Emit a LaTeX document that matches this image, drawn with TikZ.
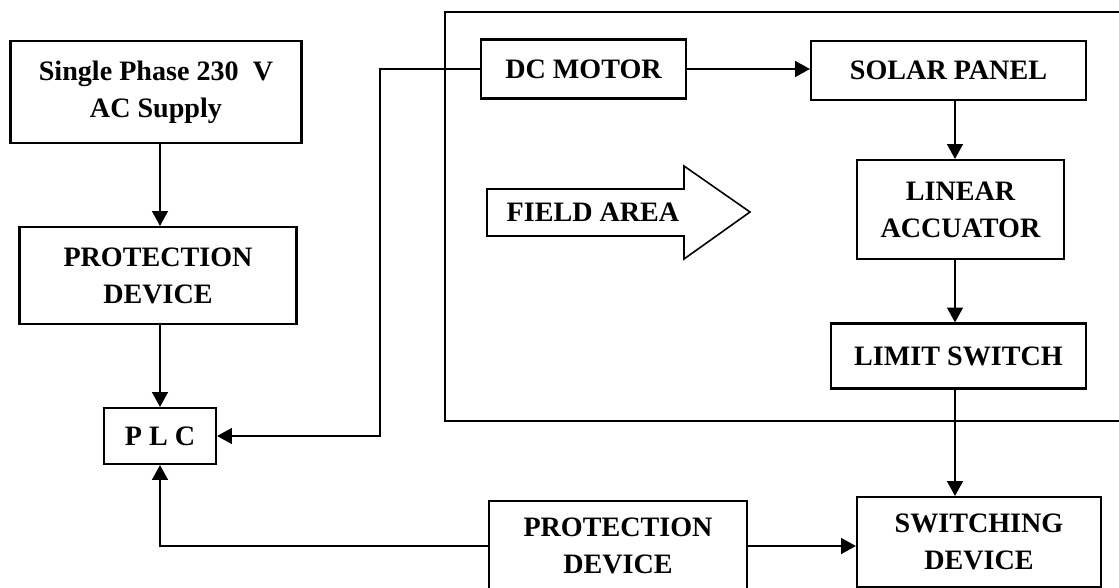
\documentclass[tikz,border=0pt]{standalone}
\usepackage{fontspec}
\setmainfont{Liberation Serif}
\usetikzlibrary{arrows.meta}

\begin{document}
\begin{tikzpicture}[x=0.02cm,y=-0.02cm,
  blk/.style={draw,line width=1.2pt,align=center,inner sep=0pt,font=\fontsize{16}{21}\selectfont\bfseries},
  arr/.style={line width=1.2pt,-{Triangle[length=8.5pt,width=9pt]}}]
\clip (0,0) rectangle (1119,588);
\draw[line width=1.2pt] (445,12) rectangle (1135,421);
\node[blk,minimum width=5.82cm,minimum height=2.04cm] (supply) at (156,92) {Single Phase 230\ \ V\\AC Supply};
\node[blk,minimum width=5.54cm,minimum height=1.94cm] (prot1) at (158,275.5) {PROTECTION\\DEVICE};
\node[blk,minimum width=2.24cm,minimum height=1.12cm] (plc) at (160,436) {P L C};
\node[blk,minimum width=4.10cm,minimum height=1.18cm] (dcm) at (583.5,69) {DC MOTOR};
\node[blk,minimum width=5.50cm,minimum height=1.18cm] (solar) at (948.5,70.5) {SOLAR PANEL};
\node[blk,minimum width=4.14cm,minimum height=1.98cm] (linear) at (960.5,209.5) {LINEAR\\ACCUATOR};
\node[blk,minimum width=5.10cm,minimum height=1.30cm] (limit) at (958.5,356) {LIMIT SWITCH};
\node[blk,minimum width=4.88cm,minimum height=1.80cm] (switching) at (979,542) {SWITCHING\\DEVICE};
\node[blk,minimum width=5.16cm,minimum height=1.80cm] (prot2) at (618,546) {PROTECTION\\DEVICE};
\draw[line width=0.9pt] (487,189) -- (684,189) -- (684,166) -- (750,212) -- (684,259) -- (684,236) -- (487,236) -- cycle;
\node[font=\fontsize{16}{21}\selectfont\bfseries] (field) at (593,212) {FIELD AREA};
\coordinate (colA) at (955,0);
\coordinate (bendA) at (380,0);
\draw[arr] (supply.south -| plc) -- (prot1.north -| plc);
\draw[arr] (prot1.south -| plc) -- (plc.north);
\draw[arr] (dcm.west) -| (bendA |- plc.east) -- (plc.east);
\draw[arr] (dcm.east) -- (dcm.east -| solar.west);
\draw[arr] (solar.south -| colA) -- (linear.north -| colA);
\draw[arr] (linear.south -| colA) -- (limit.north -| colA);
\draw[arr] (limit.south -| colA) -- (switching.north -| colA);
\draw[arr] (prot2.west) -| (plc.south);
\draw[arr] (prot2.east) -- (prot2.east -| switching.west);
\end{tikzpicture}
\end{document}
